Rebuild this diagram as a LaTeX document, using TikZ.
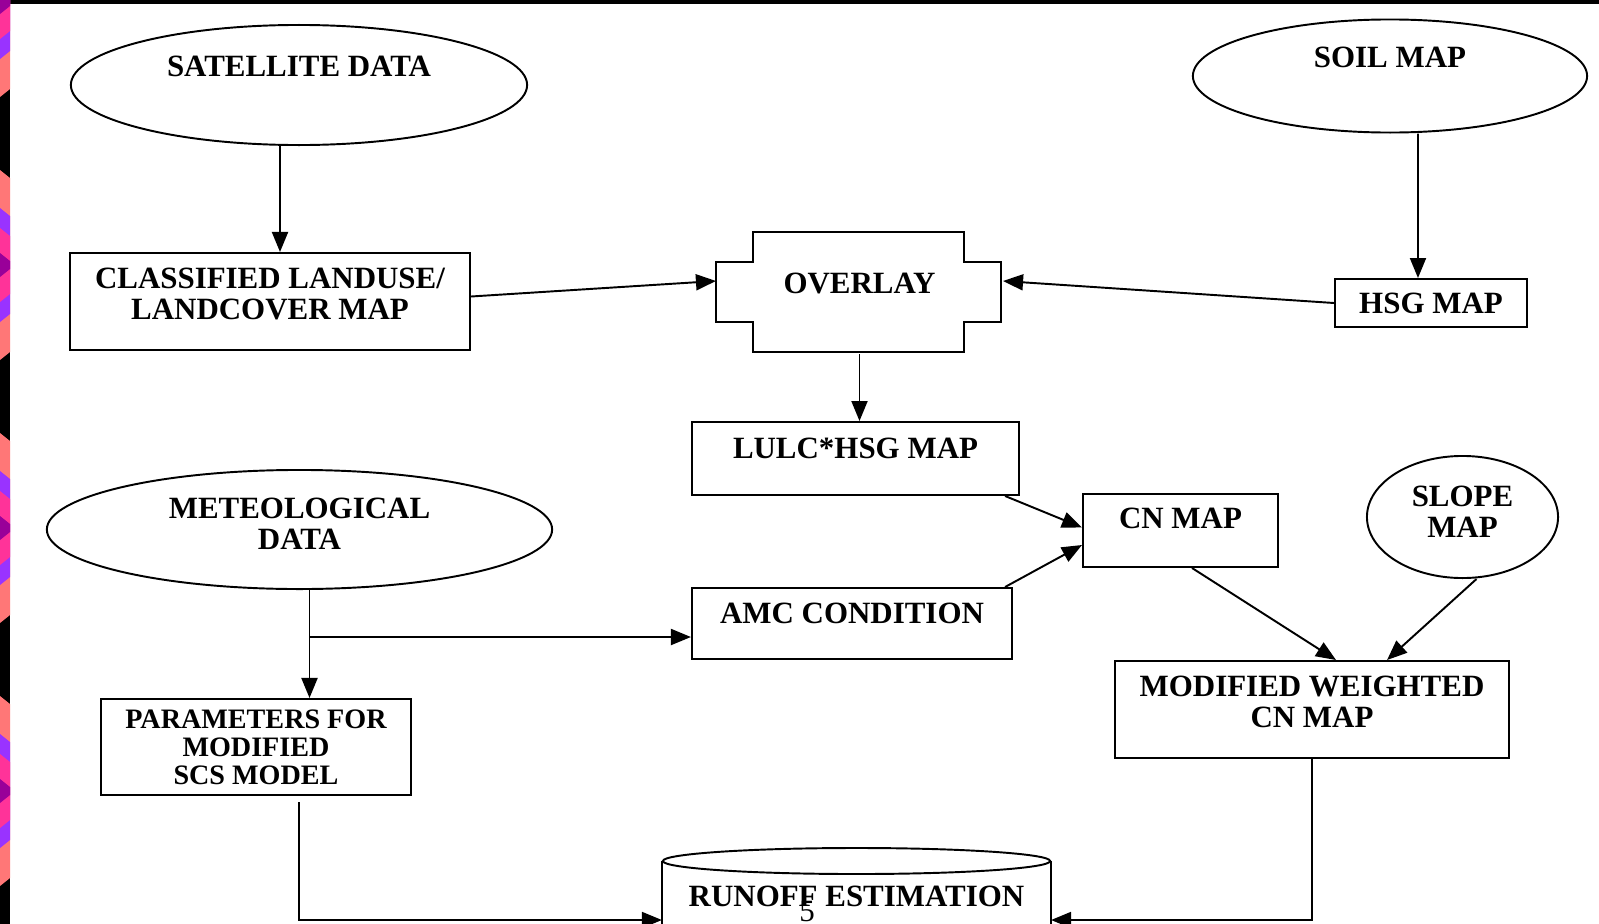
\documentclass[tikz,border=0pt]{standalone}
\usepackage{fontspec}
\setmainfont{Liberation Serif}
\usetikzlibrary{shapes.geometric,arrows.meta}

\definecolor{stripsalmon}{HTML}{FF7777}
\definecolor{stripviolet}{HTML}{9933FF}
\definecolor{strippink}{HTML}{FF3399}
\definecolor{stripmagenta}{HTML}{990099}

\newcommand{\mapfont}{\bfseries\fontsize{8.8}{8.8}\selectfont}

\tikzset{
	box/.style={draw, rectangle, inner sep=0pt, align=center, font=\mapfont},
	oval/.style={draw, ellipse, inner sep=0pt, align=center, font=\mapfont},
	arr/.style={-{Triangle[length=0.2cm,width=0.16cm]}},
}

\begin{document}
\begin{tikzpicture}[x=0.01cm, y=-0.01cm, line width=0.55pt]
	\useasboundingbox (0,0) rectangle (1599,924);
	\clip (0,0) rectangle (1599,924);
	\fill[black] (0,0) rectangle (1599,924);
	\fill[white] (10,4) rectangle (1599,924);
	\foreach \c in {2,265,528,791}
		\foreach \h/\col in {95/stripsalmon,57/stripviolet,37/strippink,12/stripmagenta}
			\fill[\col] (0,\c-\h) -- (10,\c-\h+8) -- (10,\c+\h-8) -- (0,\c+\h) -- cycle;
	
	\node[oval, minimum width=4.56cm, minimum height=1.2cm, text depth=0.38cm] (sat) at (299,85) {SATELLITE DATA};
	\node[oval, minimum width=3.94cm, minimum height=1.13cm, text depth=0.38cm] (soil) at (1390,76) {SOIL MAP};
	\node[box, minimum width=4cm, minimum height=0.97cm, text depth=0.16cm] (landuse) at (270,301.5) {CLASSIFIED LANDUSE/\\LANDCOVER MAP};
	\node[font=\mapfont, inner sep=0pt, minimum width=2.85cm, minimum height=1.2cm, text depth=0.2cm] (overlay) at (859.5,293) {OVERLAY};
	\draw ([xshift=0.37cm]overlay.north west) -- ++(211,0) -- ++(0,30) -- ++(37,0) -- ++(0,60) -- ++(-37,0) -- ++(0,30) -- ++(-211,0) -- ++(0,-30) -- ++(-37,0) -- ++(0,-60) -- ++(37,0) -- cycle;
	\node[box, minimum width=1.92cm, minimum height=0.48cm] (hsg) at (1431,303) {HSG MAP};
	\node[box, minimum width=3.27cm, minimum height=0.73cm, text depth=0.2cm] (lulc) at (855.5,458.5) {LULC*HSG MAP};
	\node[oval, minimum width=5.05cm, minimum height=1.19cm, text depth=0.12cm] (meteo) at (299.5,529.5) {METEOLOGICAL\\DATA};
	\node[box, minimum width=1.95cm, minimum height=0.73cm, text depth=0.24cm] (cn) at (1180.5,530.5) {CN MAP};
	\node[oval, minimum width=1.91cm, minimum height=1.22cm, text depth=0.1cm] (slope) at (1462.5,517) {SLOPE\\MAP};
	\node[box, minimum width=3.2cm, minimum height=0.71cm, text depth=0.2cm] (amc) at (852,623.5) {AMC CONDITION};
	\node[box, font=\bfseries\fontsize{8}{8}\selectfont, minimum width=3.1cm, minimum height=0.96cm] (param) at (256,747) {PARAMETERS FOR\\MODIFIED\\SCS MODEL};
	\node[box, minimum width=3.94cm, minimum height=0.97cm, text depth=0.16cm] (mod) at (1312,709.5) {MODIFIED WEIGHTED\\CN MAP};
	\node[font=\mapfont, inner sep=0pt, minimum width=3.87cm, minimum height=0.68cm] (runoff) at (856.5,896) {RUNOFF ESTIMATION};
	\draw (runoff.south west) -- (runoff.north west) (runoff.north east) -- (runoff.south east);
	\draw (runoff.north) ellipse [x radius=1.935cm, y radius=0.13cm];
	\node[font=\fontsize{8.8}{8.8}\selectfont, inner sep=0pt] (pagenum) at (807,912) {5};
	
	\coordinate (meteofoot) at ([xshift=0.1cm]meteo.south);
	\coordinate (amcin) at ([yshift=-0.135cm]amc.west);
	
	\draw[arr] ([xshift=-0.19cm]sat.south) -- ([xshift=0.1cm]landuse.north);
	\draw[arr] ([xshift=0.28cm]soil.south) -- ([xshift=-0.13cm]hsg.north);
	\draw[arr] ([yshift=0.05cm]landuse.east) -- ([yshift=0.12cm]overlay.west);
	\draw[arr] (hsg.west) -- ([yshift=0.12cm]overlay.east);
	\draw[arr] (overlay.south) -- (overlay.south |- lulc.north);
	\draw[arr] ([xshift=-0.15cm]lulc.south east) -- ([yshift=0.03cm]cn.west);
	\draw[arr] ([xshift=-0.08cm]amc.north east) -- ([yshift=-0.145cm]cn.west);
	\draw[arr] (meteofoot) -- (meteofoot |- param.north);
	\draw[arr] (meteofoot |- amcin) -- (amcin);
	\draw[arr] ([xshift=0.115cm]cn.south) -- ([xshift=0.24cm]mod.north);
	\draw[arr] ([xshift=0.14cm]slope.south) -- ([xshift=0.75cm]mod.north);
	\draw[arr] ([xshift=0.43cm,yshift=-0.06cm]param.south) |- ([yshift=-0.24cm]runoff.west);
	\draw[arr] (mod.south) |- ([yshift=-0.24cm]runoff.east);
\end{tikzpicture}
\end{document}
